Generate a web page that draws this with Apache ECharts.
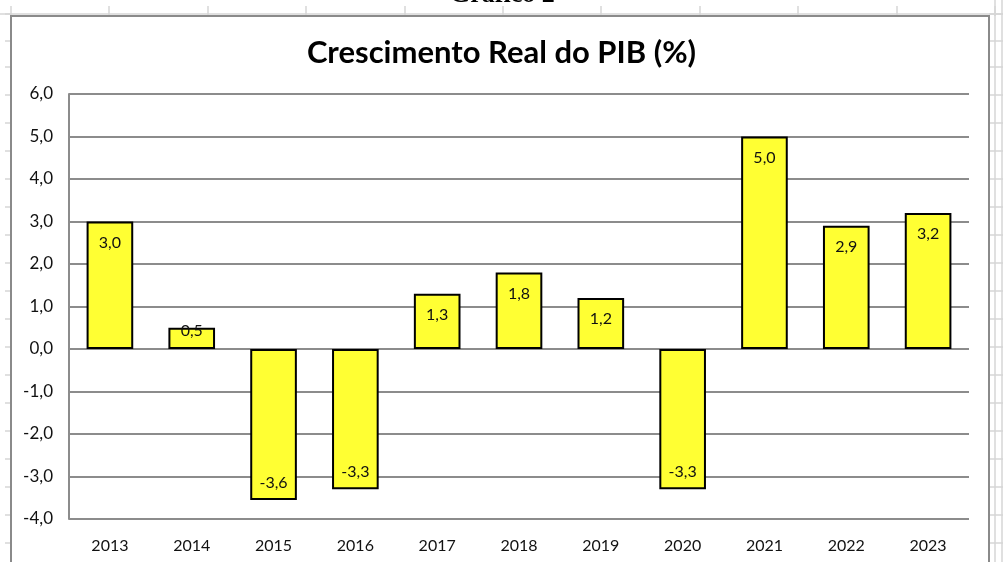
<!DOCTYPE html>
<html>
<head>
<meta charset="utf-8">
<script src="https://cdn.jsdelivr.net/npm/echarts@6/dist/echarts.min.js"></script>
<style>
  html, body { margin: 0; padding: 0; background: #fff; }
  #chart { width: 1003px; height: 562px; }
</style>
</head>
<body>
<div id="chart"></div>
<script>
const years = ['2013', '2014', '2015', '2016', '2017', '2018', '2019', '2020', '2021', '2022', '2023']
const growth = [3.0, 0.5, -3.55, -3.3, 1.3, 1.8, 1.2, -3.3, 5.0, 2.9, 3.2]
const yTicks = { min: -4, max: 6, interval: 1 }

const fmt = (v) => {
  const r = Math.sign(v) * Math.round(Math.abs(v) * 10 + 1e-9) / 10
  return r.toFixed(1).replace('.', ',')
}

// spreadsheet cells peeking out around the chart frame
const sheetLines = []
const rowYs = [14, 41, 67, 95, 123, 151, 179, 207, 235, 263, 291, 319, 347, 375, 403, 431, 459, 487, 515, 543]
rowYs.forEach((y) => {
  sheetLines.push({ type: 'line', shape: { x1: 5, y1: y, x2: 11, y2: y }, style: { stroke: '#d6d6d6', lineWidth: 1.5 } })
  sheetLines.push({ type: 'line', shape: { x1: 989, y1: y, x2: 1003, y2: y }, style: { stroke: '#d6d6d6', lineWidth: 1.5 } })
})
for (let k = 0; k < 11; k++) {
  const x = Math.round(11 + 98.4 * k)
  sheetLines.push({ type: 'line', shape: { x1: x, y1: 6, x2: x, y2: 16 }, style: { stroke: '#d6d6d6', lineWidth: 1.5 } })
}
sheetLines.push({ type: 'line', shape: { x1: 0, y1: 14, x2: 1003, y2: 14 }, style: { stroke: '#d6d6d6', lineWidth: 1.5 } })
sheetLines.push({ type: 'line', shape: { x1: 995, y1: 0, x2: 995, y2: 562 }, style: { stroke: '#d6d6d6', lineWidth: 1.5 } })
sheetLines.push({ type: 'line', shape: { x1: 1002, y1: 0, x2: 1002, y2: 562 }, style: { stroke: '#d6d6d6', lineWidth: 1.5 } })

const chart = echarts.init(document.getElementById('chart'))

chart.setOption({
  animation: false,
  backgroundColor: '#fff',
  title: {
    text: 'Crescimento Real do PIB (%)',
    left: 'center',
    top: 32,
    textStyle: { fontFamily: 'Lato', fontWeight: 'bold', fontSize: 31, color: '#000' }
  },
  graphic: [
    ...sheetLines,
    {
      type: 'text',
      left: 510 - 60,
      top: -18,
      style: { text: 'Gráfico 2', font: 'bold 26px "Liberation Serif"', fill: '#000' },
      z: 1
    },
    {
      type: 'rect',
      shape: { x: 11, y: 16, width: 978, height: 560 },
      style: { fill: 'none', stroke: '#8a8a8a', lineWidth: 2 },
      z: 2
    }
  ],
  grid: { left: 69, right: 34, top: 94, bottom: 43 },
  xAxis: {
    type: 'category',
    data: years,
    axisLine: { show: false },
    axisTick: { show: false },
    axisLabel: { color: '#111', fontFamily: 'Lato', fontSize: 16, margin: 19 }
  },
  yAxis: {
    type: 'value',
    min: yTicks.min,
    max: yTicks.max,
    interval: yTicks.interval,
    axisLine: { show: true, lineStyle: { color: '#8c8c8c', width: 2 } },
    axisTick: { show: false },
    axisLabel: { color: '#111', fontFamily: 'Lato', fontSize: 17, margin: 16, formatter: fmt },
    splitLine: { lineStyle: { color: '#8c8c8c', width: 2 } }
  },
  series: [
    {
      type: 'bar',
      barWidth: '57%',
      data: growth.map((v, i) => ({
        value: v,
        label: v < 0
          ? { position: 'insideBottom', distance: 9 }
          : (v < 1 ? { position: 'insideTop', distance: -5 } : { position: 'insideTop', distance: 13 })
      })),
      itemStyle: { color: '#FFFF33', borderColor: '#000', borderWidth: 2 },
      label: {
        show: true,
        color: '#111',
        fontFamily: 'Lato',
        fontSize: 16,
        formatter: (p) => fmt(p.value)
      }
    }
  ]
})
</script>
</body>
</html>
